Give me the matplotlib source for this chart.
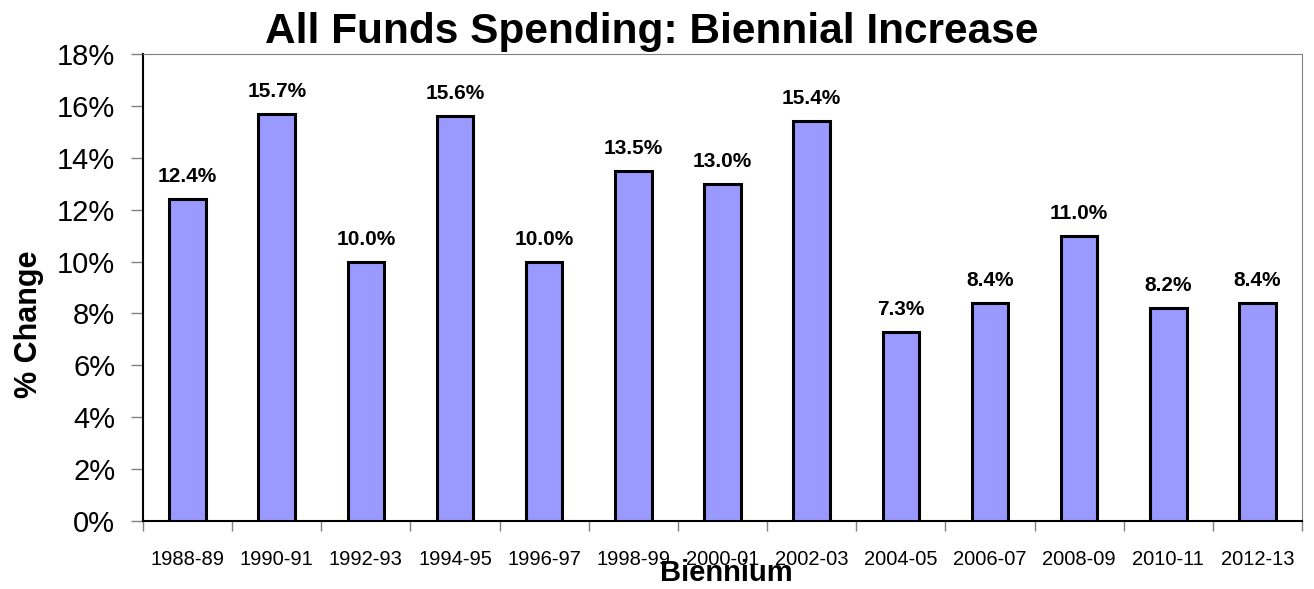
import numpy as np
import matplotlib
matplotlib.use("Agg")
import matplotlib.pyplot as plt
import matplotlib.ticker as mtick

plt.rcParams['font.family'] = ['Liberation Sans', 'DejaVu Sans']

# DATA
biennium = ["1988-89", "1990-91", "1992-93", "1994-95", "1996-97", "1998-99", "2000-01",
            "2002-03", "2004-05", "2006-07", "2008-09", "2010-11", "2012-13"]
pct_change = [12.4, 15.7, 10.0, 15.6, 10.0, 13.5, 13.0, 15.4, 7.3, 8.4, 11.0, 8.2, 8.4]

x = np.arange(len(biennium))

fig = plt.figure(figsize=(13.14, 5.89), dpi=100)
ax = fig.add_axes([0.1088, 0.1154, 0.8821, 0.7929])

ax.bar(x, pct_change, width=0.41, color='#9999FF', edgecolor='black', linewidth=2.2, zorder=3)

for xi, v in zip(x, pct_change):
    ax.text(xi, v + 0.5, '%.1f%%' % v, ha='center', va='bottom', fontsize=15, fontweight='bold')

ax.set_xlim(-0.5, len(biennium) - 0.5)
ax.set_ylim(0, 18)
ax.yaxis.set_major_locator(mtick.MultipleLocator(2))
ax.yaxis.set_major_formatter(mtick.FormatStrFormatter('%d%%'))

# category labels centered, ticks between categories
ax.set_xticks(x)
ax.set_xticklabels(biennium, fontsize=14.5)
ax.set_xticks(np.arange(len(biennium) + 1) - 0.5, minor=True)
ax.tick_params(axis='x', which='major', length=0, pad=21)
ax.tick_params(axis='x', which='minor', length=7, width=1, color='#808080')
ax.tick_params(axis='y', which='major', labelsize=21, length=9, width=1, color='#808080', pad=11)

ax.spines['top'].set_color('#808080')
ax.spines['right'].set_color('#808080')
ax.spines['left'].set_color('black')
ax.spines['bottom'].set_color('black')
ax.spines['left'].set_linewidth(1.5)
ax.spines['bottom'].set_linewidth(1.5)

fig.text(0.496, 0.945, 'All Funds Spending: Biennial Increase', fontsize=30.5,
         fontweight='bold', ha='center', va='center')
fig.text(0.022, 1 - 324 / 589, '% Change', fontsize=22, fontweight='bold',
         rotation=90, ha='center', va='center')
fig.text(0.553, 1 - 573 / 589, 'Biennium', fontsize=21, fontweight='bold',
         ha='center', va='center')

plt.savefig('out.png', dpi=100)
